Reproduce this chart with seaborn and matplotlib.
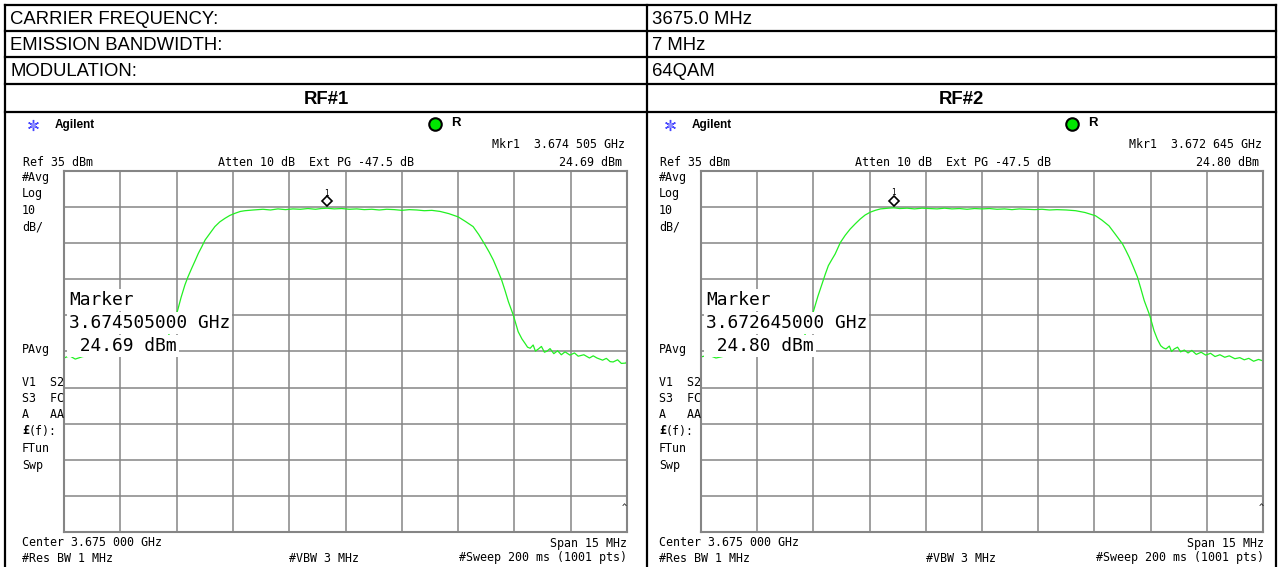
import matplotlib
matplotlib.use("Agg")
import matplotlib.pyplot as plt
import matplotlib.transforms as mtransforms
import pandas as pd
import seaborn as sns

W, H = 1280, 567

# table rows
info_labels = ["CARRIER FREQUENCY:", "EMISSION BANDWIDTH:", "MODULATION:"]
info_values = ["3675.0 MHz", "7 MHz", "64QAM"]
panel_titles = ["RF#1", "RF#2"]

# analyser settings
center_mhz = 3675.0
span_mhz = 15.0
ref_dbm = 35.0
db_per_div = 10.0

# marker readouts
marker_freq = [3674.505, 3672.645]
marker_level = [24.69, 24.80]
marker_freq_txt = ["3.674 505 GHz", "3.672 645 GHz"]
marker_box_txt = ["3.674505000 GHz", "3.672645000 GHz"]

# traces (MHz, dBm)
rf1_freq = [3667.50, 3667.65, 3667.80, 3668.00, 3668.30, 3668.60, 3668.90, 3669.20,
            3669.50, 3669.80, 3670.05, 3670.25, 3670.40, 3670.53, 3670.62, 3670.72,
            3670.80, 3670.90, 3671.00, 3671.08, 3671.17, 3671.26, 3671.40, 3671.52,
            3671.65, 3671.79, 3671.92, 3672.06, 3672.20, 3672.32, 3672.54, 3672.80,
            3673.00, 3673.20, 3673.40, 3673.60, 3673.80, 3674.00, 3674.20, 3674.35,
            3674.505, 3674.70, 3674.90, 3675.10, 3675.30, 3675.50, 3675.70, 3675.90,
            3676.10, 3676.30, 3676.50, 3676.70, 3676.90, 3677.10, 3677.30, 3677.52,
            3677.75, 3678.00, 3678.20, 3678.40, 3678.55, 3678.72, 3678.83, 3678.94,
            3679.05, 3679.16, 3679.25, 3679.34, 3679.47, 3679.60, 3679.70, 3679.78,
            3679.85, 3679.92, 3680.00, 3680.06, 3680.14, 3680.22, 3680.30, 3680.37,
            3680.45, 3680.55, 3680.65, 3680.75, 3680.85, 3680.98, 3681.10, 3681.20,
            3681.35, 3681.50, 3681.60, 3681.70, 3681.85, 3681.95, 3682.05, 3682.13,
            3682.25, 3682.35, 3682.47, 3682.50]
rf1_level = [-16.8, -16.2, -17.1, -16.4, -16.0, -15.6, -15.9, -15.2,
             -15.0, -14.6, -14.0, -11.5, -7.5, -3.5, 0.0, 3.4,
             5.6, 8.0, 10.3, 12.2, 14.0, 15.9, 17.9, 19.6,
             20.9, 21.9, 22.7, 23.3, 23.8, 24.0, 24.2, 24.4,
             24.2, 24.5, 24.3, 24.5, 24.4, 24.6, 24.4, 24.6,
             24.69, 24.5, 24.6, 24.4, 24.5, 24.3, 24.4, 24.2,
             24.4, 24.3, 24.1, 24.3, 24.2, 24.0, 24.1, 23.8,
             23.2, 22.3, 21.0, 19.6, 17.4, 14.5, 12.5, 10.3,
             7.6, 4.8, 1.9, -1.2, -4.9, -9.5, -11.5, -12.7,
             -13.8, -14.1, -13.2, -14.9, -14.3, -13.6, -15.2, -14.9,
             -14.2, -15.6, -14.8, -15.9, -15.1, -16.0, -15.4, -16.3,
             -15.9, -16.8, -16.2, -16.8, -17.4, -16.9, -17.8, -17.9,
             -17.3, -18.3, -18.2, -17.6]

rf2_freq = [3667.50, 3667.70, 3667.90, 3668.20, 3668.50, 3668.80, 3669.10, 3669.40,
            3669.70, 3670.00, 3670.20, 3670.38, 3670.52, 3670.62, 3670.73, 3670.82,
            3670.90, 3671.00, 3671.08, 3671.22, 3671.35, 3671.48, 3671.62, 3671.75,
            3671.88, 3672.02, 3672.15, 3672.29, 3672.50, 3672.645, 3672.80, 3673.00,
            3673.20, 3673.40, 3673.60, 3673.80, 3674.00, 3674.20, 3674.40, 3674.60,
            3674.80, 3675.00, 3675.20, 3675.40, 3675.60, 3675.80, 3676.00, 3676.20,
            3676.40, 3676.60, 3676.80, 3677.00, 3677.25, 3677.50, 3677.75, 3678.03,
            3678.20, 3678.39, 3678.55, 3678.75, 3678.84, 3678.93, 3679.04, 3679.15,
            3679.24, 3679.33, 3679.48, 3679.59, 3679.68, 3679.77, 3679.84, 3679.91,
            3680.00, 3680.06, 3680.13, 3680.22, 3680.30, 3680.40, 3680.50, 3680.60,
            3680.72, 3680.85, 3680.97, 3681.10, 3681.22, 3681.35, 3681.48, 3681.60,
            3681.75, 3681.88, 3682.00, 3682.12, 3682.25, 3682.38, 3682.50]
rf2_level = [-16.5, -16.0, -16.8, -16.1, -15.7, -15.9, -15.3, -15.0,
             -14.7, -14.2, -12.0, -8.0, -3.2, 0.3, 3.7, 6.5,
             8.8, 10.6, 12.0, 15.2, 17.2, 18.9, 20.4, 21.7,
             22.8, 23.6, 24.1, 24.5, 24.7, 24.80, 24.6, 24.7,
             24.5, 24.7, 24.6, 24.5, 24.7, 24.5, 24.6, 24.4,
             24.6, 24.5, 24.6, 24.4, 24.5, 24.3, 24.5, 24.4,
             24.3, 24.4, 24.2, 24.3, 24.2, 24.0, 23.5, 22.6,
             21.4, 19.8, 17.6, 14.8, 13.0, 11.1, 8.4, 5.6,
             2.4, -0.9, -5.1, -9.2, -11.6, -13.4, -14.0, -14.3,
             -13.5, -15.0, -14.3, -13.8, -15.1, -14.6, -15.4, -14.7,
             -15.8, -15.2, -16.0, -15.5, -16.4, -15.9, -16.6, -16.2,
             -17.0, -16.7, -17.3, -16.9, -17.7, -17.2, -17.6]

traces = [(rf1_freq, rf1_level), (rf2_freq, rf2_level)]

MONO = "DejaVu Sans Mono"
SANS = "Liberation Sans"

fig = plt.figure(figsize=(W / 100, H / 100), dpi=100)
bg = fig.add_axes([0, 0, 1, 1])
bg.set_xlim(0, W)
bg.set_ylim(H, 0)
bg.axis("off")


def ftxt(x, y, s, **kw):
    # text placed in pixel coordinates, drawn above the plot axes
    kw.setdefault("fontfamily", MONO)
    kw.setdefault("fontsize", 8.4)
    kw.setdefault("va", "center")
    return fig.text(x / W, 1 - y / H, s, **kw)


# table frame
row_y = [5, 31, 57, 84, 112]
for y in row_y:
    bg.plot([5, 1276], [y, y], color="black", lw=1.6, solid_capstyle="projecting")
for x in [5, 647, 1276]:
    bg.plot([x, x], [5, H], color="black", lw=1.6)

for i, (lab, val) in enumerate(zip(info_labels, info_values)):
    yc = (row_y[i] + row_y[i + 1]) / 2 + 1
    ftxt(10, yc, lab, fontfamily=SANS, fontsize=13.3)
    ftxt(652, yc, val, fontfamily=SANS, fontsize=13.3)

col_mid = [326, 961]
for i, title in enumerate(panel_titles):
    ftxt(col_mid[i], (row_y[3] + row_y[4]) / 2 + 1, title, fontfamily=SANS,
         fontsize=13.3, fontweight="bold", ha="center")

# two analyser screens
offsets = [0, 637]
for i, off in enumerate(offsets):
    gx0, gx1, gy0, gy1 = 64 + off, 627 + off - i, 171, 532
    ax = fig.add_axes([gx0 / W, 1 - gy1 / H, (gx1 - gx0) / W, (gy1 - gy0) / H])
    freq, level = traces[i]
    df = pd.DataFrame({"freq": freq, "level": level})
    sns.lineplot(data=df, x="freq", y="level", ax=ax, color="#22f022", lw=0.9,
                 estimator=None, sort=False)
    lo, hi = center_mhz - span_mhz / 2, center_mhz + span_mhz / 2
    ax.set_xlim(lo, hi)
    ax.set_ylim(ref_dbm - 10 * db_per_div, ref_dbm)
    ax.set_xticks([lo + k * span_mhz / 10 for k in range(11)])
    ax.set_yticks([ref_dbm - k * db_per_div for k in range(11)])
    ax.grid(True, color="#858585", lw=1.1)
    ax.set_axisbelow(True)
    ax.tick_params(length=0, labelbottom=False, labelleft=False)
    ax.set_xlabel("")
    ax.set_ylabel("")
    for sp in ax.spines.values():
        sp.set_color("#858585")
        sp.set_linewidth(1.5)

    # marker diamond and number sitting above the trace
    up = mtransforms.offset_copy(ax.transData, fig=fig, y=7, units="dots")
    ax.plot([marker_freq[i]], [marker_level[i]], marker="D", ms=5, mfc="white",
            mec="black", mew=1.2, transform=up, clip_on=False)
    up2 = mtransforms.offset_copy(ax.transData, fig=fig, y=15, units="dots")
    ax.text(marker_freq[i], marker_level[i], "1", transform=up2, fontsize=5.5,
            fontfamily=MONO, ha="center", va="center")

    # header
    bg.plot([33 + off], [125], marker=(6, 2, 0), ms=8, color="#4646ff", mew=1)
    bg.plot([33 + off], [125], marker="o", ms=2.5, color="#9090ff")
    ftxt(55 + off, 125, "Agilent", fontfamily=SANS, fontsize=8.5, fontweight="bold")
    bg.plot([435 + off], [124], marker="o", ms=9, mfc="#00e600", mec="black", mew=1.5)
    ftxt(451 + off, 123, "R", fontfamily=SANS, fontsize=9.5, fontweight="bold")
    ftxt(625 + off, 145, "Mkr1  " + marker_freq_txt[i], ha="right")
    ftxt(23 + off, 163, "Ref 35 dBm")
    ftxt(218 + off, 163, "Atten 10 dB  Ext PG -47.5 dB")
    ftxt(622 + off, 163, f"{marker_level[i]:.2f} dBm", ha="right")

    # left annotation column
    side = [("#Avg", 178), ("Log", 194), ("10", 210), ("dB/", 227), ("PAvg", 349),
            ("V1  S2", 382), ("S3  FC", 398), ("A   AA", 415), ("FTun", 448),
            ("Swp", 465)]
    for s, y in side:
        ftxt(22 + off, y, s)
    ftxt(22 + off, 431, "£", fontweight="bold")
    ftxt(29 + off, 431, "(f):")

    # marker readout box
    box = dict(facecolor="white", edgecolor="none", pad=1.5)
    ftxt(69 + off, 300, "Marker", fontsize=12.9, bbox=box)
    ftxt(69 + off, 323, marker_box_txt[i], fontsize=12.9, bbox=box)
    ftxt(69 + off, 346, f" {marker_level[i]:.2f} dBm", fontsize=12.9, bbox=box)

    ftxt(624 + off, 507, "^", fontsize=6, ha="center")

    # footer
    ftxt(22 + off, 543, "Center 3.675 000 GHz")
    ftxt(627 + off, 543, "Span 15 MHz", ha="right")
    ftxt(22 + off, 558, "#Res BW 1 MHz")
    ftxt(289 + off, 558, "#VBW 3 MHz")
    ftxt(627 + off, 558, "#Sweep 200 ms (1001 pts)", ha="right")

fig.savefig("out.png", dpi=100)
